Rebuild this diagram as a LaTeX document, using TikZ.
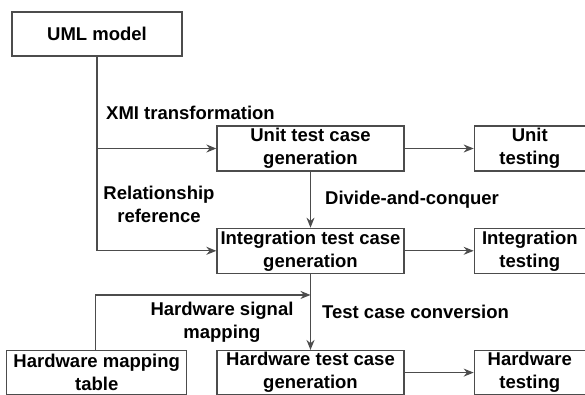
\documentclass[tikz,border=0pt]{standalone}
\usepackage{fontspec}
\setmainfont{Liberation Sans}
\usepackage{tikz}
\usetikzlibrary{positioning,arrows.meta,calc}

\tikzset{
  blockbox/.style = {draw=black!70, line width=1.3pt, align=center, inner sep=1pt,
                     font=\bfseries\fontsize{18.5}{23}\selectfont},
  flowlabel/.style = {align=center, inner sep=1pt,
                      font=\bfseries\fontsize{18.5}{23}\selectfont},
  flowarrow/.style = {draw=black!70, line width=1.3pt,
                      -{Stealth[length=10pt,width=8pt]}},
  flowline/.style = {draw=black!70, line width=1.3pt}
}

\begin{document}
\begin{tikzpicture}[x=1pt, y=-1pt]
  \useasboundingbox (0,0) rectangle (585,394);

  % boxes
  \node[blockbox, minimum width=170pt, minimum height=44pt] (uml) at (97,34) {UML model};
  \node[blockbox, minimum width=187pt, minimum height=45pt] (unitgen) at (310.5,148.5) {Unit test case\\generation};
  \node[blockbox, minimum width=111pt, minimum height=45pt, right=69pt of unitgen] (unittest) {Unit\\testing};

  \node[blockbox, minimum width=187pt, minimum height=45pt, below=56pt of unitgen] (intgen) {Integration test case\\generation};
  \node[blockbox, minimum width=111pt, minimum height=45pt, right=69pt of intgen] (inttest) {Integration\\testing};

  \node[blockbox, minimum width=187pt, minimum height=44pt, below=76pt of intgen] (hwgen) {Hardware test case\\generation};
  \node[blockbox, minimum width=111pt, minimum height=44pt, right=69pt of hwgen] (hwtest) {Hardware\\testing};
  \node[blockbox, minimum width=180pt, minimum height=44pt, left=29pt of hwgen] (hwmap) {Hardware mapping\\table};

  \coordinate (join) at ([yshift=-21pt]intgen.south);

  % connectors
  \draw[flowarrow] (uml) |- (intgen);
  \draw[flowarrow] (uml.south |- unitgen) -- (unitgen.west);
  \draw[flowarrow] (unitgen) -- (unittest);
  \draw[flowarrow] (unitgen) -- (intgen);
  \draw[flowarrow] (intgen) -- (inttest);
  \draw[flowarrow] (intgen) -- (hwgen);
  \draw[flowarrow] (hwgen) -- (hwtest);
  \draw[flowarrow] ([xshift=-1pt]hwmap.north) |- (join);

  % labels
  \node[flowlabel, anchor=west] (xmi) at (105,113) {XMI transformation};
  \node[flowlabel] (relref) at (159,204) {Relationship\\reference};
  \node[flowlabel, anchor=west] (divide) at (324,200) {Divide-and-conquer};
  \node[flowlabel, anchor=west] (conv) at (321,312) {Test case conversion};
  \node[flowlabel] (signal) at (222,322) {Hardware signal\\mapping};
\end{tikzpicture}
\end{document}
